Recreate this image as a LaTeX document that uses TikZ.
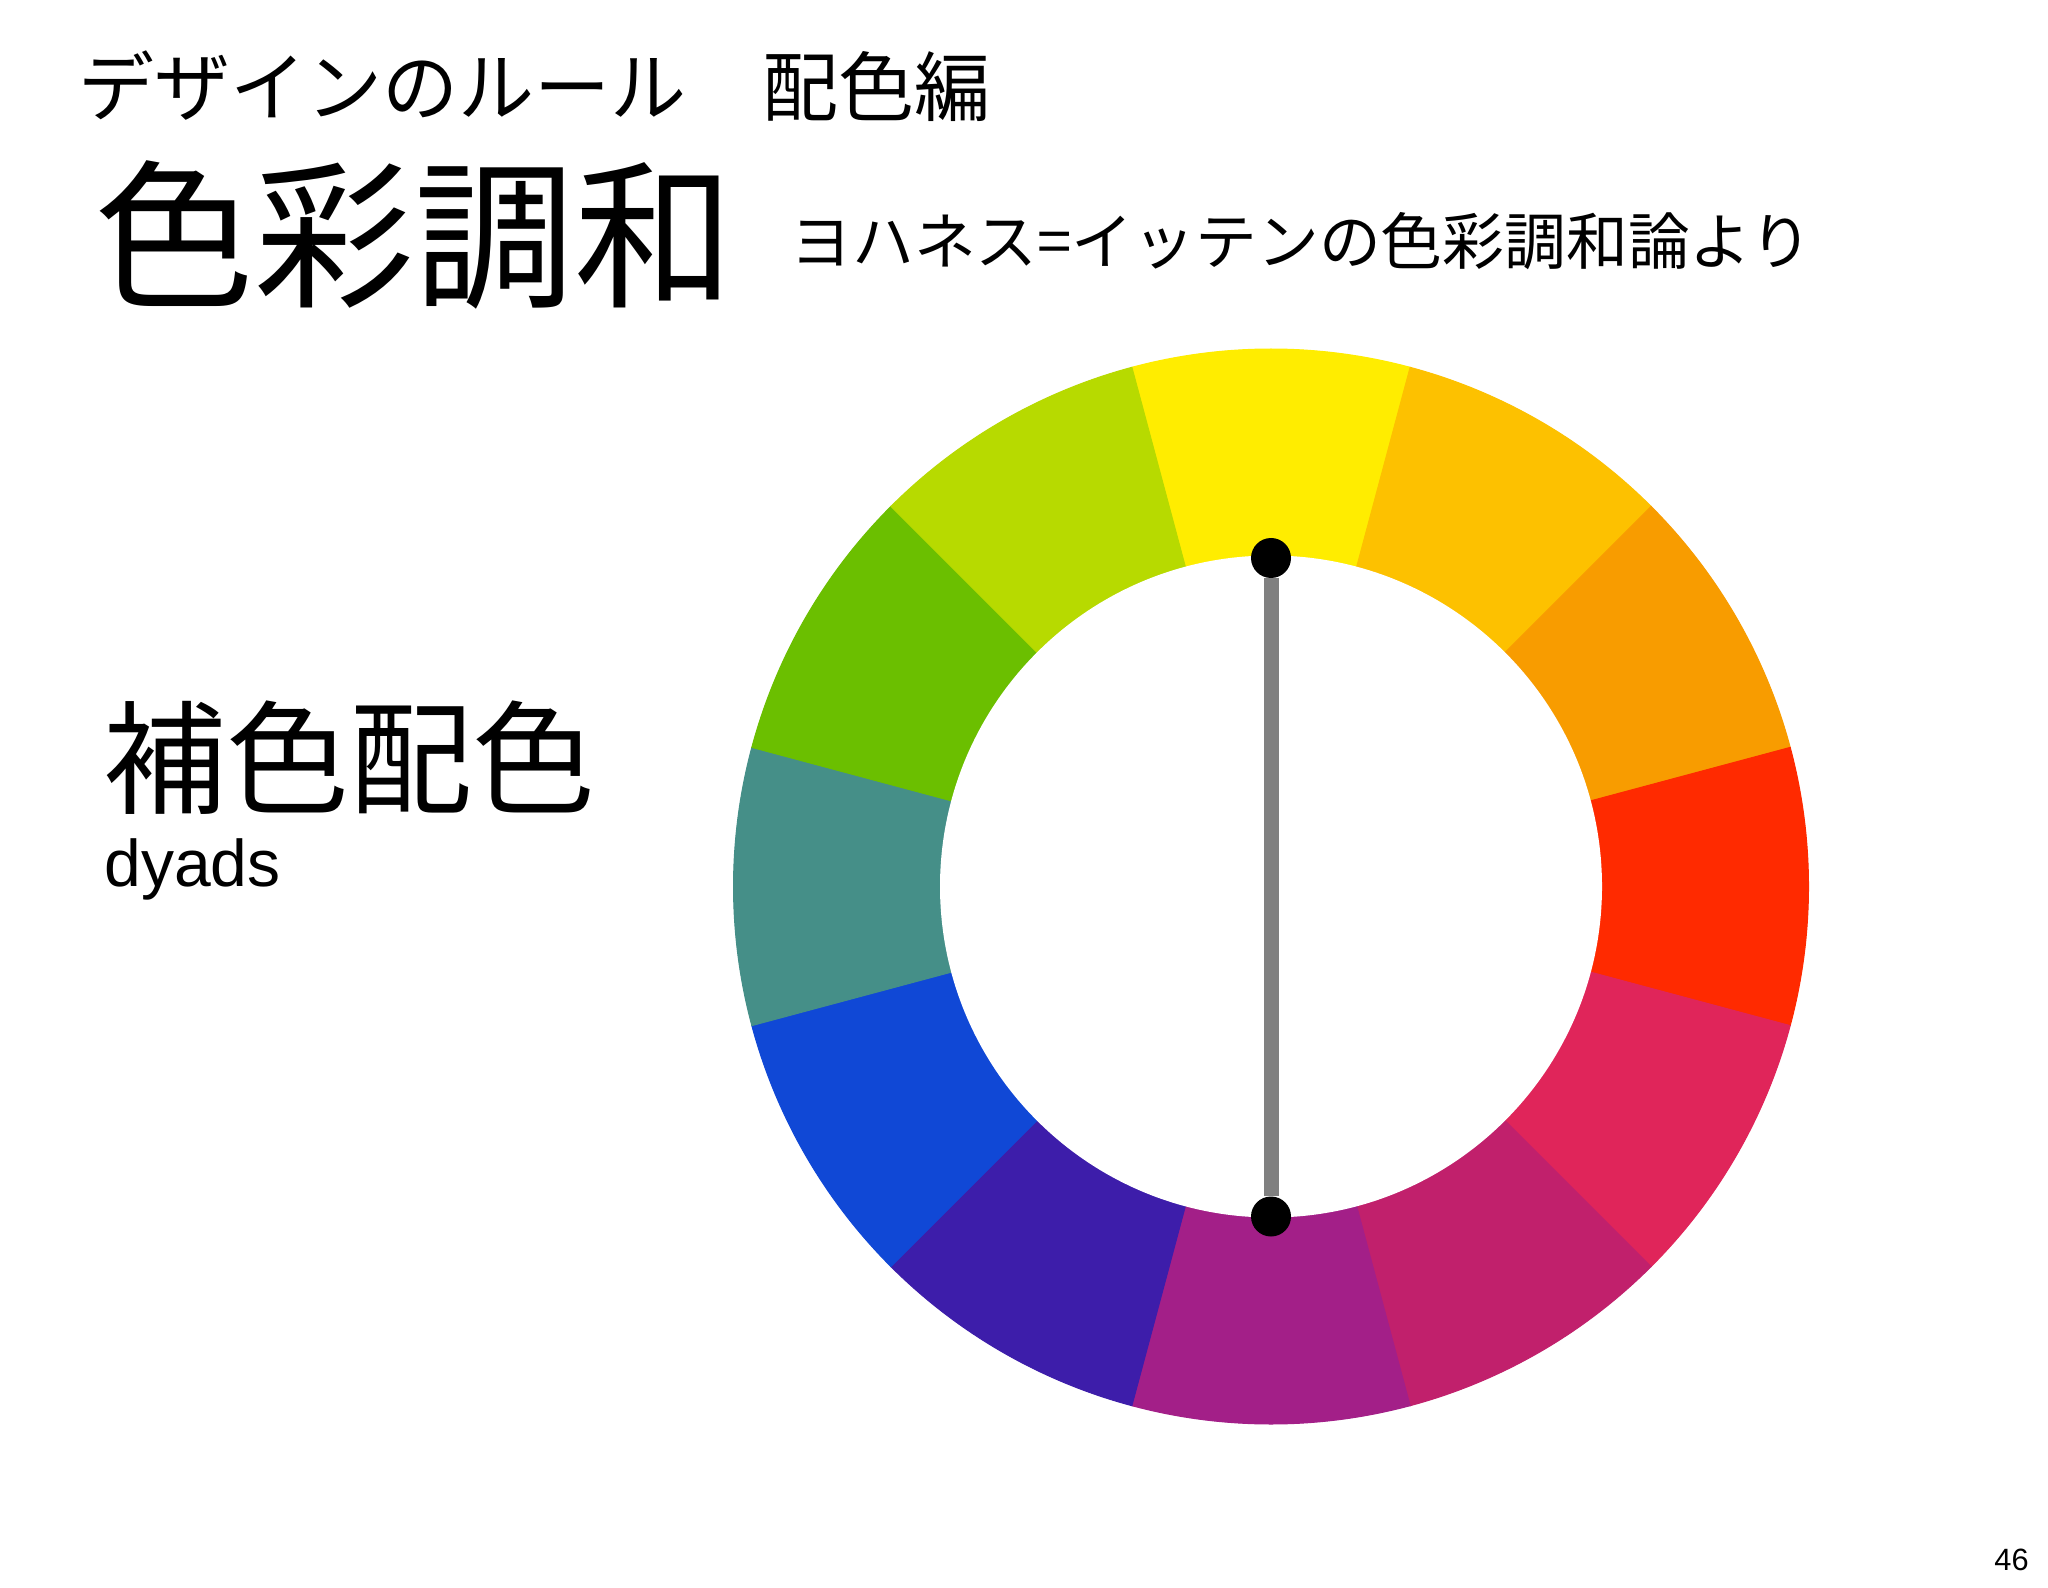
\documentclass[tikz,border=0pt]{standalone}
\usepackage{fontspec}
\setmainfont{Liberation Sans}
\newfontfamily\jpfont{Noto Sans CJK JP}
\usetikzlibrary{positioning}
\definecolor{hueY}{HTML}{FFED00}
\definecolor{hueYO}{HTML}{FDC100}
\definecolor{hueO}{HTML}{F89C00}
\definecolor{hueR}{HTML}{FF2A00}
\definecolor{hueRM}{HTML}{E0255A}
\definecolor{hueM}{HTML}{C1206C}
\definecolor{hueP}{HTML}{A31F88}
\definecolor{hueV}{HTML}{3D1DAA}
\definecolor{hueB}{HTML}{1048D6}
\definecolor{hueT}{HTML}{458F88}
\definecolor{hueG}{HTML}{6BBF00}
\definecolor{hueYG}{HTML}{B7DA00}
\tikzset{dot node/.style={circle,fill=black,minimum size=20pt,inner sep=0pt},
  jp text/.style={anchor=west,inner sep=0pt,font=\jpfont},
}

\begin{document}
\begin{tikzpicture}[x=0.5pt,y=0.5pt]
	\useasboundingbox (0,0) rectangle (2048,1587);
	\fill[white] (0,0) rectangle (2048,1587);
	
	% titles
	\node[jp text] (rule) at (78,1501) {\fontsize{38pt}{40pt}\selectfont デザインのルール　配色編};
	\node[jp text] (harmony) at (94,1352) {\fontsize{80pt}{84pt}\selectfont 色彩調和};
	\node[jp text] (source) at (790,1346) {\fontsize{30.9pt}{32pt}\selectfont ヨハネス=イッテンの色彩調和論より};
	\node[jp text] (dyad jp) at (103,829) {\fontsize{61.5pt}{64pt}\selectfont 補色配色};
	\node[anchor=base west,inner sep=0pt,font=\fontsize{33pt}{36pt}\selectfont] (dyad en) at (104,701) {dyads};
	\node[anchor=base east,inner sep=0pt,font=\fontsize{15.4pt}{17pt}\selectfont] (page) at (2029,17) {46};
	
	% colour wheel
	\coordinate (c) at (1271,700.5);
	\foreach \a/\col in {90/hueY,60/hueYO,30/hueO,0/hueR,-30/hueRM,-60/hueM,
		-90/hueP,-120/hueV,-150/hueB,180/hueT,150/hueG,120/hueYG}{
		\filldraw[fill=\col,draw=\col,line width=0.5pt] (c) -- ++(\a-15:537.5)
			arc[start angle=\a-15,end angle=\a+15,radius=268.75pt] -- cycle;
	}
	\fill[white] (c) circle[radius=165.5pt];
	
	% complementary pair
	\node[dot node] (yellow) at (1271,1029) {};
	\node[dot node] (purple) at (1271,370.5) {};
	\draw[line width=7.5pt,color=gray] (yellow) -- (purple);
\end{tikzpicture}
\end{document}
